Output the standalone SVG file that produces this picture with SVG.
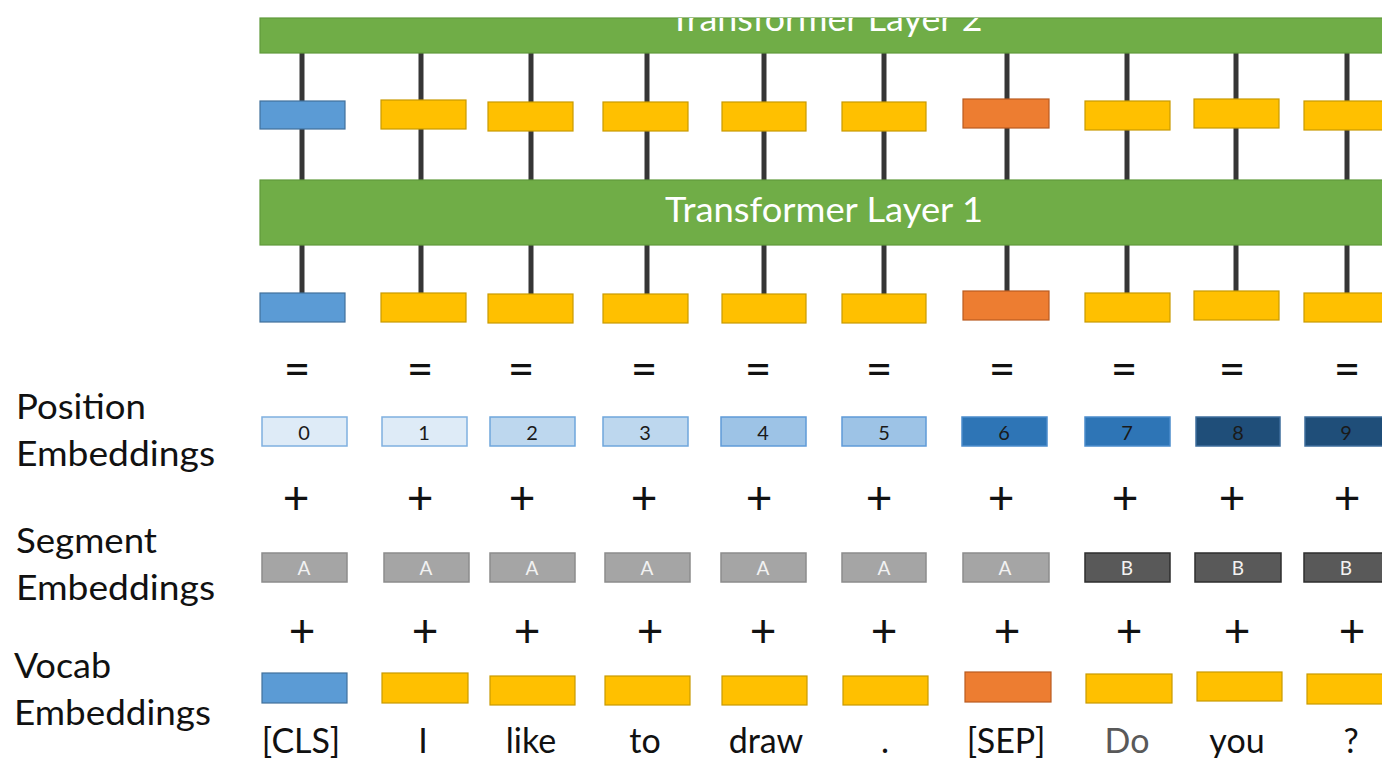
<svg xmlns="http://www.w3.org/2000/svg" width="1382" height="758" viewBox="0 0 1382 758">
  <style>
    text { font-family: Lato, "Open Sans", sans-serif; }
    .layer { fill: #70ad47; stroke: #5f9a3b; stroke-width: 1.2; }
    .layer-label { fill: #ffffff; font-size: 34px; text-anchor: middle; }
    .cls { fill: #5b9bd5; stroke: #41719c; stroke-width: 1.2; }
    .tok { fill: #ffc000; stroke: #c99a00; stroke-width: 1.2; }
    .sep { fill: #ed7d31; stroke: #b95b20; stroke-width: 1.2; }
    .p0 { fill: #deebf7; stroke: #7fb0e0; stroke-width: 1.5; }
    .p1 { fill: #bdd7ee; stroke: #6fa6dc; stroke-width: 1.5; }
    .p2 { fill: #9dc3e6; stroke: #5f9bd8; stroke-width: 1.5; }
    .p3 { fill: #2e75b6; stroke: #4b8ccc; stroke-width: 1.5; }
    .p4 { fill: #1f4e79; stroke: #3e6d9c; stroke-width: 1.5; }
    .pos-num { fill: #1a1a1a; font-size: 20px; text-anchor: middle; }
    .segA { fill: #a5a5a5; stroke: #8c8c8c; stroke-width: 1.5; }
    .segB { fill: #595959; stroke: #2e2e2e; stroke-width: 1.5; }
    .seg-txt { fill: #f2f2f2; font-size: 19px; text-anchor: middle; }
    .op { fill: #111111; font-size: 46px; text-anchor: middle; }
    .word { fill: #111111; font-size: 34px; text-anchor: middle; }
    .row-label { fill: #111111; font-size: 35px; }
    .wire { stroke: #363636; stroke-width: 5; fill: none; }
  </style>
  <defs>
    <clipPath id="topClip">
      <rect x="0" y="18" width="1382" height="40"/>
    </clipPath>
  </defs>
  <rect width="1382" height="758" fill="#ffffff"/>

  <!-- vertical wires through the stack -->
  <g id="connectors">
    <path class="wire" d="M302 53V180M421 53V180M531 53V180M647 53V180M764 53V180M884 53V180M1007 53V180M1127 53V180M1236 53V180M1347 53V180"/>
    <path class="wire" d="M302 245V293M421 245V293M531 245V294M647 245V294M764 245V294M884 245V294M1007 245V291M1127 245V293M1236 245V291M1347 245V293"/>
  </g>

  <!-- transformer layers -->
  <g id="layer2">
    <rect class="layer" x="260" y="18" width="1130" height="35"/>
    <text class="layer-label" x="826" y="31" textLength="313" lengthAdjust="spacingAndGlyphs" clip-path="url(#topClip)">Transformer Layer 2</text>
  </g>
  <g id="layer1">
    <rect class="layer" x="260" y="180" width="1130" height="65"/>
    <text class="layer-label" x="824" y="222" textLength="318" lengthAdjust="spacingAndGlyphs">Transformer Layer 1</text>
  </g>

  <!-- hidden states between the layers -->
  <g id="hidden2">
    <rect class="cls" x="260" y="101" width="85" height="28"/>
    <rect class="tok" x="381" y="100" width="85" height="29"/>
    <rect class="tok" x="488" y="102" width="85" height="29"/>
    <rect class="tok" x="603" y="102" width="85" height="29"/>
    <rect class="tok" x="722" y="102" width="84" height="29"/>
    <rect class="tok" x="842" y="102" width="84" height="29"/>
    <rect class="sep" x="963" y="99" width="86" height="29"/>
    <rect class="tok" x="1085" y="101" width="85" height="29"/>
    <rect class="tok" x="1194" y="99" width="85" height="29"/>
    <rect class="tok" x="1304" y="101" width="90" height="29"/>
  </g>

  <!-- input sums -->
  <g id="hidden1">
    <rect class="cls" x="260" y="293" width="85" height="29"/>
    <rect class="tok" x="381" y="293" width="85" height="29"/>
    <rect class="tok" x="488" y="294" width="85" height="29"/>
    <rect class="tok" x="603" y="294" width="85" height="29"/>
    <rect class="tok" x="722" y="294" width="84" height="29"/>
    <rect class="tok" x="842" y="294" width="84" height="29"/>
    <rect class="sep" x="963" y="291" width="86" height="29"/>
    <rect class="tok" x="1085" y="293" width="85" height="29"/>
    <rect class="tok" x="1194" y="291" width="85" height="29"/>
    <rect class="tok" x="1304" y="293" width="90" height="29"/>
  </g>

  <g id="equals">
    <text class="op" x="297" y="385">=</text>
    <text class="op" x="420" y="385">=</text>
    <text class="op" x="521" y="385">=</text>
    <text class="op" x="644" y="385">=</text>
    <text class="op" x="758" y="385">=</text>
    <text class="op" x="879" y="385">=</text>
    <text class="op" x="1002" y="385">=</text>
    <text class="op" x="1124" y="385">=</text>
    <text class="op" x="1232" y="385">=</text>
    <text class="op" x="1347" y="385">=</text>
  </g>

  <!-- position embeddings -->
  <g id="position">
    <rect class="p0" x="262" y="417" width="85" height="29"/><text class="pos-num" x="304" y="440">0</text>
    <rect class="p0" x="382" y="417" width="85" height="29"/><text class="pos-num" x="424" y="440">1</text>
    <rect class="p1" x="490" y="417" width="85" height="29"/><text class="pos-num" x="532" y="440">2</text>
    <rect class="p1" x="603" y="417" width="85" height="29"/><text class="pos-num" x="645" y="440">3</text>
    <rect class="p2" x="721" y="417" width="85" height="29"/><text class="pos-num" x="763" y="440">4</text>
    <rect class="p2" x="842" y="417" width="84" height="29"/><text class="pos-num" x="884" y="440">5</text>
    <rect class="p3" x="962" y="417" width="85" height="29"/><text class="pos-num" x="1004" y="440">6</text>
    <rect class="p3" x="1085" y="417" width="85" height="29"/><text class="pos-num" x="1127" y="440">7</text>
    <rect class="p4" x="1196" y="417" width="84" height="29"/><text class="pos-num" x="1238" y="440">8</text>
    <rect class="p4" x="1305" y="417" width="90" height="29"/><text class="pos-num" x="1346" y="440">9</text>
  </g>

  <g id="plus1">
    <text class="op" x="296" y="514">+</text>
    <text class="op" x="420" y="514">+</text>
    <text class="op" x="522" y="514">+</text>
    <text class="op" x="644" y="514">+</text>
    <text class="op" x="759" y="514">+</text>
    <text class="op" x="879" y="514">+</text>
    <text class="op" x="1001" y="514">+</text>
    <text class="op" x="1125" y="514">+</text>
    <text class="op" x="1232" y="514">+</text>
    <text class="op" x="1347" y="514">+</text>
  </g>

  <!-- segment embeddings -->
  <g id="segment">
    <rect class="segA" x="262" y="553" width="85" height="29"/><text class="seg-txt" x="304" y="575">A</text>
    <rect class="segA" x="384" y="553" width="85" height="29"/><text class="seg-txt" x="426" y="575">A</text>
    <rect class="segA" x="490" y="553" width="85" height="29"/><text class="seg-txt" x="532" y="575">A</text>
    <rect class="segA" x="605" y="553" width="85" height="29"/><text class="seg-txt" x="647" y="575">A</text>
    <rect class="segA" x="721" y="553" width="85" height="29"/><text class="seg-txt" x="763" y="575">A</text>
    <rect class="segA" x="842" y="553" width="84" height="29"/><text class="seg-txt" x="884" y="575">A</text>
    <rect class="segA" x="963" y="553" width="86" height="29"/><text class="seg-txt" x="1005" y="575">A</text>
    <rect class="segB" x="1085" y="553" width="85" height="29"/><text class="seg-txt" x="1127" y="575">B</text>
    <rect class="segB" x="1195" y="553" width="86" height="29"/><text class="seg-txt" x="1238" y="575">B</text>
    <rect class="segB" x="1304" y="553" width="90" height="29"/><text class="seg-txt" x="1346" y="575">B</text>
  </g>

  <g id="plus2">
    <text class="op" x="302" y="647">+</text>
    <text class="op" x="425" y="647">+</text>
    <text class="op" x="527" y="647">+</text>
    <text class="op" x="650" y="647">+</text>
    <text class="op" x="763" y="647">+</text>
    <text class="op" x="884" y="647">+</text>
    <text class="op" x="1007" y="647">+</text>
    <text class="op" x="1129" y="647">+</text>
    <text class="op" x="1237" y="647">+</text>
    <text class="op" x="1352" y="647">+</text>
  </g>

  <!-- vocab embeddings -->
  <g id="vocab">
    <rect class="cls" x="262" y="673" width="85" height="30"/>
    <rect class="tok" x="382" y="673" width="86" height="30"/>
    <rect class="tok" x="490" y="676" width="85" height="29"/>
    <rect class="tok" x="605" y="676" width="85" height="29"/>
    <rect class="tok" x="722" y="676" width="85" height="29"/>
    <rect class="tok" x="843" y="676" width="85" height="29"/>
    <rect class="sep" x="965" y="672" width="86" height="30"/>
    <rect class="tok" x="1086" y="674" width="86" height="29"/>
    <rect class="tok" x="1197" y="672" width="85" height="29"/>
    <rect class="tok" x="1307" y="674" width="90" height="30"/>
  </g>

  <g id="tokens">
    <text class="word" x="301" y="753">[CLS]</text>
    <text class="word" x="423" y="753">I</text>
    <text class="word" x="531" y="753">like</text>
    <text class="word" x="645" y="753">to</text>
    <text class="word" x="766" y="753">draw</text>
    <text class="word" x="885" y="753">.</text>
    <text class="word" x="1006" y="753">[SEP]</text>
    <text class="word" x="1127" y="753" style="fill:#595959">Do</text>
    <text class="word" x="1237" y="753">you</text>
    <text class="word" x="1351" y="753">?</text>
  </g>

  <!-- row labels -->
  <g id="labels">
    <text class="row-label" x="16" y="419" textLength="130" lengthAdjust="spacingAndGlyphs">Position</text>
    <text class="row-label" x="16" y="466" textLength="199" lengthAdjust="spacingAndGlyphs">Embeddings</text>
    <text class="row-label" x="16" y="553" textLength="141" lengthAdjust="spacingAndGlyphs">Segment</text>
    <text class="row-label" x="16" y="600" textLength="199" lengthAdjust="spacingAndGlyphs">Embeddings</text>
    <text class="row-label" x="14" y="678" textLength="97" lengthAdjust="spacingAndGlyphs">Vocab</text>
    <text class="row-label" x="14" y="725" textLength="197" lengthAdjust="spacingAndGlyphs">Embeddings</text>
  </g>
</svg>
